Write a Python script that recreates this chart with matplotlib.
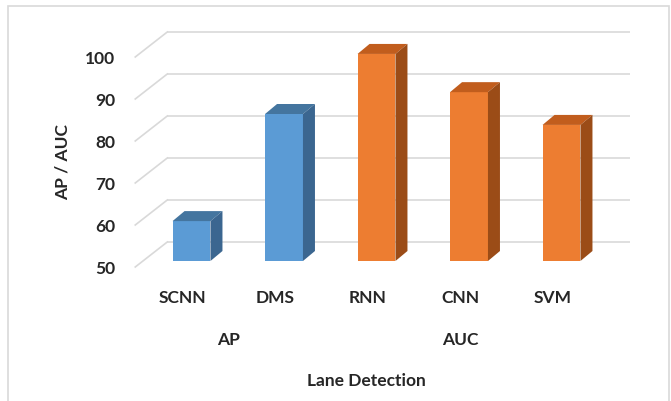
import matplotlib
matplotlib.use("Agg")
import matplotlib.pyplot as plt
import matplotlib.transforms as mtransforms
from matplotlib.patches import Polygon, Rectangle

# ── data ────────────────────────────────────────────────────────────────────
methods = ["SCNN", "DMS", "RNN", "CNN", "SVM"]
groups = ["AP", "AP", "AUC", "AUC", "AUC"]
scores = [59.5, 85.0, 99.3, 90.2, 82.4]
yticks = [50, 60, 70, 80, 90, 100]
group_names = ["AP", "AUC"]

# ── style ───────────────────────────────────────────────────────────────────
FRONT = {"AP": "#5B9BD5", "AUC": "#ED7D31"}
TOP = {"AP": "#44759F", "AUC": "#C15D1D"}
SIDE = {"AP": "#3B6690", "AUC": "#9B4C17"}
GRID = "#D9D9D9"
TXT = "#262626"
FONT = "Lato"

W, H = 671, 402
fig = plt.figure(figsize=(W / 100, H / 100), dpi=100)
ax = fig.add_axes([145.25 / W, 140 / H, 462.5 / W, 210 / H])
ax.set_xlim(-0.5, len(methods) - 0.5)
ax.set_ylim(50, 100)
ax.axis("off")


def shift(dx, dy):
    """Pixel offset transform (dx right, dy up)."""
    return ax.transData + mtransforms.ScaledTranslation(dx / 100, dy / 100, fig.dpi_scale_trans)


# pixel -> data unit factors from the axes scale
x0p, y0p = ax.transData.transform((0, 50))
x1p, y1p = ax.transData.transform((1, 60))
ux = 1.0 / (x1p - x0p)
uy = 10.0 / (y1p - y0p)

# back wall + left wall gridlines
BACK = (22, 19)
FRONT_EDGE = (-10, -6)
xl, xr = ax.get_xlim()
for v in yticks:
    ax.plot([xl, xr], [v, v], color=GRID, lw=1.2, transform=shift(*BACK), zorder=1,
            clip_on=False, solid_capstyle="butt")
    ax.plot([xl + FRONT_EDGE[0] * ux, xl + BACK[0] * ux],
            [v + FRONT_EDGE[1] * uy, v + BACK[1] * uy],
            color=GRID, lw=1.2, zorder=1, clip_on=False)
    ax.text(xl, v, str(v), transform=shift(-30, -7), ha="right", va="center",
            fontsize=12.5, fontweight="bold", color=TXT, family=FONT)

# bars with depth
width = 0.41
ddx, ddy = 12 * ux, 10 * uy
for i, (g, s) in enumerate(zip(groups, scores)):
    left, right = i - width / 2, i + width / 2
    ax.bar(i, s - 50, bottom=50, width=width, color=FRONT[g], zorder=3, clip_on=False)
    ax.add_patch(Polygon([(left, s), (right, s), (right + ddx, s + ddy), (left + ddx, s + ddy)],
                         closed=True, facecolor=TOP[g], edgecolor="none", zorder=3, clip_on=False))
    ax.add_patch(Polygon([(right, 50), (right, s), (right + ddx, s + ddy), (right + ddx, 50 + ddy)],
                         closed=True, facecolor=SIDE[g], edgecolor="none", zorder=3, clip_on=False))
    ax.text(i, 50, methods[i], transform=shift(-9, -36), ha="center", va="center",
            fontsize=12.5, fontweight="bold", color=TXT, family=FONT)

# group labels centred under their bars
for g in group_names:
    idx = [i for i, gg in enumerate(groups) if gg == g]
    ax.text(sum(idx) / len(idx), 50, g, transform=shift(-9, -78), ha="center", va="center",
            fontsize=12.5, fontweight="bold", color=TXT, family=FONT)

fig.text(366 / W, 1 - 381 / H, "Lane Detection", ha="center", va="center",
         fontsize=12.5, fontweight="bold", color=TXT, family=FONT)
fig.text(63 / W, 1 - 162 / H, "AP / AUC", ha="center", va="center", rotation=90,
         fontsize=12.5, fontweight="bold", color=TXT, family=FONT)

# chart frame
fig.patches.append(Rectangle((8 / W, -0.05), 661 / W, 1 - 7 / H + 0.05, transform=fig.transFigure,
                             fill=False, edgecolor="#D9D9D9", lw=1.2))

fig.savefig("out.png", dpi=100)
